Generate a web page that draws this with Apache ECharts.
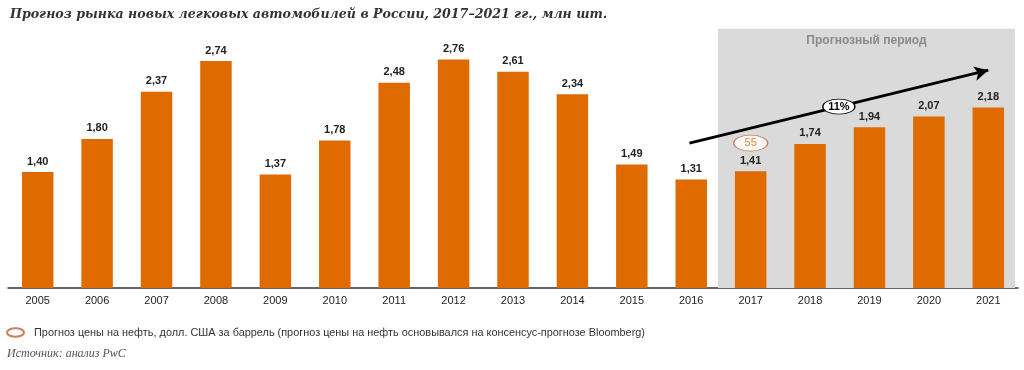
<!DOCTYPE html>
<html><head><meta charset="utf-8">
<script src="https://cdn.jsdelivr.net/npm/echarts@6/dist/echarts.min.js"></script>
<style>html,body{margin:0;padding:0;background:#fff}#c{width:1024px;height:370px}</style>
</head><body><div id="c"></div>
<script>
const years = ['2005','2006','2007','2008','2009','2010','2011','2012','2013','2014','2015','2016','2017','2018','2019','2020','2021'];
const sales = [1.40,1.80,2.37,2.74,1.37,1.78,2.48,2.76,2.61,2.34,1.49,1.31,1.41,1.74,1.94,2.07,2.18];
const oilYear = '2017';
const oilPrice = 55;
const oilMarkerLevel = 1.75;
const trendStart = [10.97, 1.75];
const trendEnd = [16, 2.63];
const trendLabel = '11%';
const forecastFrom = 11.45, forecastTo = 16.45, forecastTop = 3.13;
const titleText = 'Прогноз рынка новых легковых автомобилей в России, 2017–2021 гг., млн шт.';
const legendText = 'Прогноз цены на нефть, долл. США за баррель (прогноз цены на нефть основывался на консенсус-прогнозе Bloomberg)';
const sourceText = 'Источник: анализ PwC';
const forecastText = 'Прогнозный период';

const ellipse = 'path://M0,10 A20,10 0 1 0 40,10 A20,10 0 1 0 0,10 Z';
const mid = [(trendStart[0] + trendEnd[0]) / 2, (trendStart[1] + trendEnd[1]) / 2];
const chart = echarts.init(document.getElementById('c'));
chart.setOption({
  animation: false,
  title: {text: titleText, left: 5, top: 3,
    textStyle: {fontFamily: 'DejaVu Serif', fontStyle: 'italic', fontWeight: 'bold', fontSize: 12.6, color: '#333'}},
  legend: {data: [legendText], left: 1, top: 322, itemWidth: 17, itemHeight: 9,
    textStyle: {fontFamily: 'Liberation Sans', fontSize: 10.9, color: '#333', padding: [0, 0, 0, 5]}},
  graphic: [{type: 'text', left: 7, top: 348,
    style: {text: sourceText, font: 'italic 12px "Liberation Serif"', fill: '#555'}}],
  grid: {left: 8, right: 6, top: 23, bottom: 82},
  xAxis: [
    {type: 'category', data: years, axisTick: {show: false},
     axisLine: {lineStyle: {color: '#333', width: 1.5}},
     axisLabel: {color: '#222', fontFamily: 'Liberation Sans', fontSize: 11, margin: 7}},
    {type: 'value', min: -0.5, max: 16.5, show: false}
  ],
  yAxis: {type: 'value', min: 0, max: 3.2, show: false, splitLine: {show: false}},
  series: [
    {type: 'line', xAxisIndex: 1, data: [[0, 0]], symbol: 'none', lineStyle: {opacity: 0}, silent: true, z: 0,
     markArea: {silent: true, itemStyle: {color: '#dadada'},
       label: {show: true, position: 'insideTop', distance: 6, color: '#8a8a8a', fontWeight: 'bold',
         fontFamily: 'Liberation Sans', fontSize: 12},
       data: [[{xAxis: forecastFrom, yAxis: forecastTop, name: forecastText}, {xAxis: forecastTo, yAxis: 0}]]}},
    {type: 'bar', data: sales, barWidth: '53%', z: 2,
     itemStyle: {color: '#df6a00'},
     label: {show: true, position: 'top', distance: 5, color: '#222', fontWeight: 'bold',
       fontFamily: 'Liberation Sans', fontSize: 11,
       formatter: p => p.value.toFixed(2).replace('.', ',')}},
    {type: 'line', xAxisIndex: 1, data: [[0, 0]], symbol: 'none', lineStyle: {opacity: 0}, silent: true, z: 4,
     markLine: {silent: true, symbol: ['none', 'arrow'], symbolSize: [11, 14],
       lineStyle: {color: '#000', width: 2.8, type: 'solid'},
       label: {show: false},
       data: [[{coord: trendStart}, {coord: trendEnd}]]},
     markPoint: {silent: true, symbol: ellipse, symbolSize: [32, 15],
       itemStyle: {color: '#fff', borderColor: '#000', borderWidth: 1},
       label: {show: true, position: 'inside', formatter: trendLabel, color: '#000', fontWeight: 'bold',
         fontFamily: 'Liberation Sans', fontSize: 11},
       data: [{coord: mid}]}},
    {type: 'scatter', name: legendText, data: [[oilYear, oilMarkerLevel, oilPrice]], symbol: ellipse,
     symbolSize: [34, 16], z: 3,
     itemStyle: {color: '#fff', borderColor: '#b9643a', borderWidth: 1},
     label: {show: true, position: 'inside', formatter: p => String(p.value[2]), color: '#e06a10',
       fontFamily: 'Liberation Sans', fontSize: 11}}
  ]
});
</script></body></html>
